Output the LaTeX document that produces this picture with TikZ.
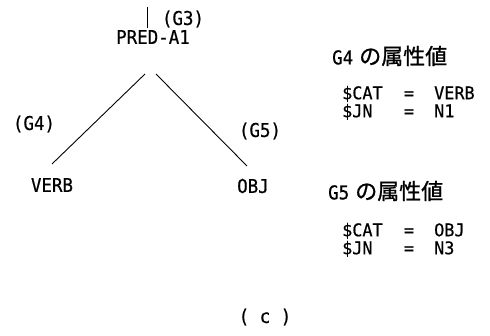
\documentclass[tikz,border=0pt]{standalone}
\usepackage{fontspec}
\newfontfamily\monofont[FakeStretch=0.92,FakeBold=0.6]{DejaVu Sans Mono}
\newfontfamily\rowfont[FakeStretch=0.96,FakeBold=0.6]{DejaVu Sans Mono}
\newfontfamily\cjk[FakeBold=1]{Noto Sans CJK JP}
\begin{document}
\begin{tikzpicture}[x=1pt,y=-1pt,
  lbl/.style={inner sep=0pt,font=\monofont\fontsize{19}{21}\selectfont},
  row/.style={inner sep=0pt,font=\rowfont\fontsize{17.5}{19}\selectfont,text height=12pt,text depth=1.5pt},
  head/.style={inner sep=0pt,anchor=west},
  edge/.style={line width=0.9pt}]
\path[use as bounding box,fill=white] (0,0) rectangle (490,336);

% tree: root tick, PRED-A1 and its two daughters
\coordinate (up1) at (147,7);
\coordinate (up2) at (147,28);
\draw[edge] (up1) -- (up2);
\node[lbl] (g3) at (183,19) {(G3)};
\node[lbl] (pred) at (153,37) {PRED-A1};

\coordinate (la) at (145,74);
\coordinate (lb) at (52,164);
\coordinate (ra) at (156,74);
\coordinate (rb) at (247,166);
\draw[edge] (la) -- (lb);
\draw[edge] (ra) -- (rb);

\node[lbl] (g4) at (34,124) {(G4)};
\node[lbl] (g5) at (260,131) {(G5)};
\node[lbl] (verb) at (52,185) {VERB};
\node[lbl] (obj) at (253,186) {OBJ};

% attribute values of G4
\node[head] (h4) at (332,56) {\monofont\fontsize{19}{21}\selectfont G4\hspace{6pt}\cjk\fontsize{22}{24}\selectfont の属性値};
\node[row,anchor=west] (c4) at (342,94) {\$CAT};
\node[row] (e4a) at (409,94) {=};
\node[row,anchor=west] (v4) at (434,94) {VERB};
\node[row,anchor=west] (j4) at (342,112) {\$JN};
\node[row] (e4b) at (409,112) {=};
\node[row,anchor=west] (n4) at (434,112) {N1};

% attribute values of G5
\node[head] (h5) at (328,191) {\monofont\fontsize{19}{21}\selectfont G5\hspace{6pt}\cjk\fontsize{22}{24}\selectfont の属性値};
\node[row,anchor=west] (c5) at (342,231) {\$CAT};
\node[row] (e5a) at (409,231) {=};
\node[row,anchor=west] (v5) at (434,231) {OBJ};
\node[row,anchor=west] (j5) at (342,249) {\$JN};
\node[row] (e5b) at (409,249) {=};
\node[row,anchor=west] (n5) at (434,249) {N3};

\node[lbl] (cap) at (265,317) {( c )};
\end{tikzpicture}
\end{document}
